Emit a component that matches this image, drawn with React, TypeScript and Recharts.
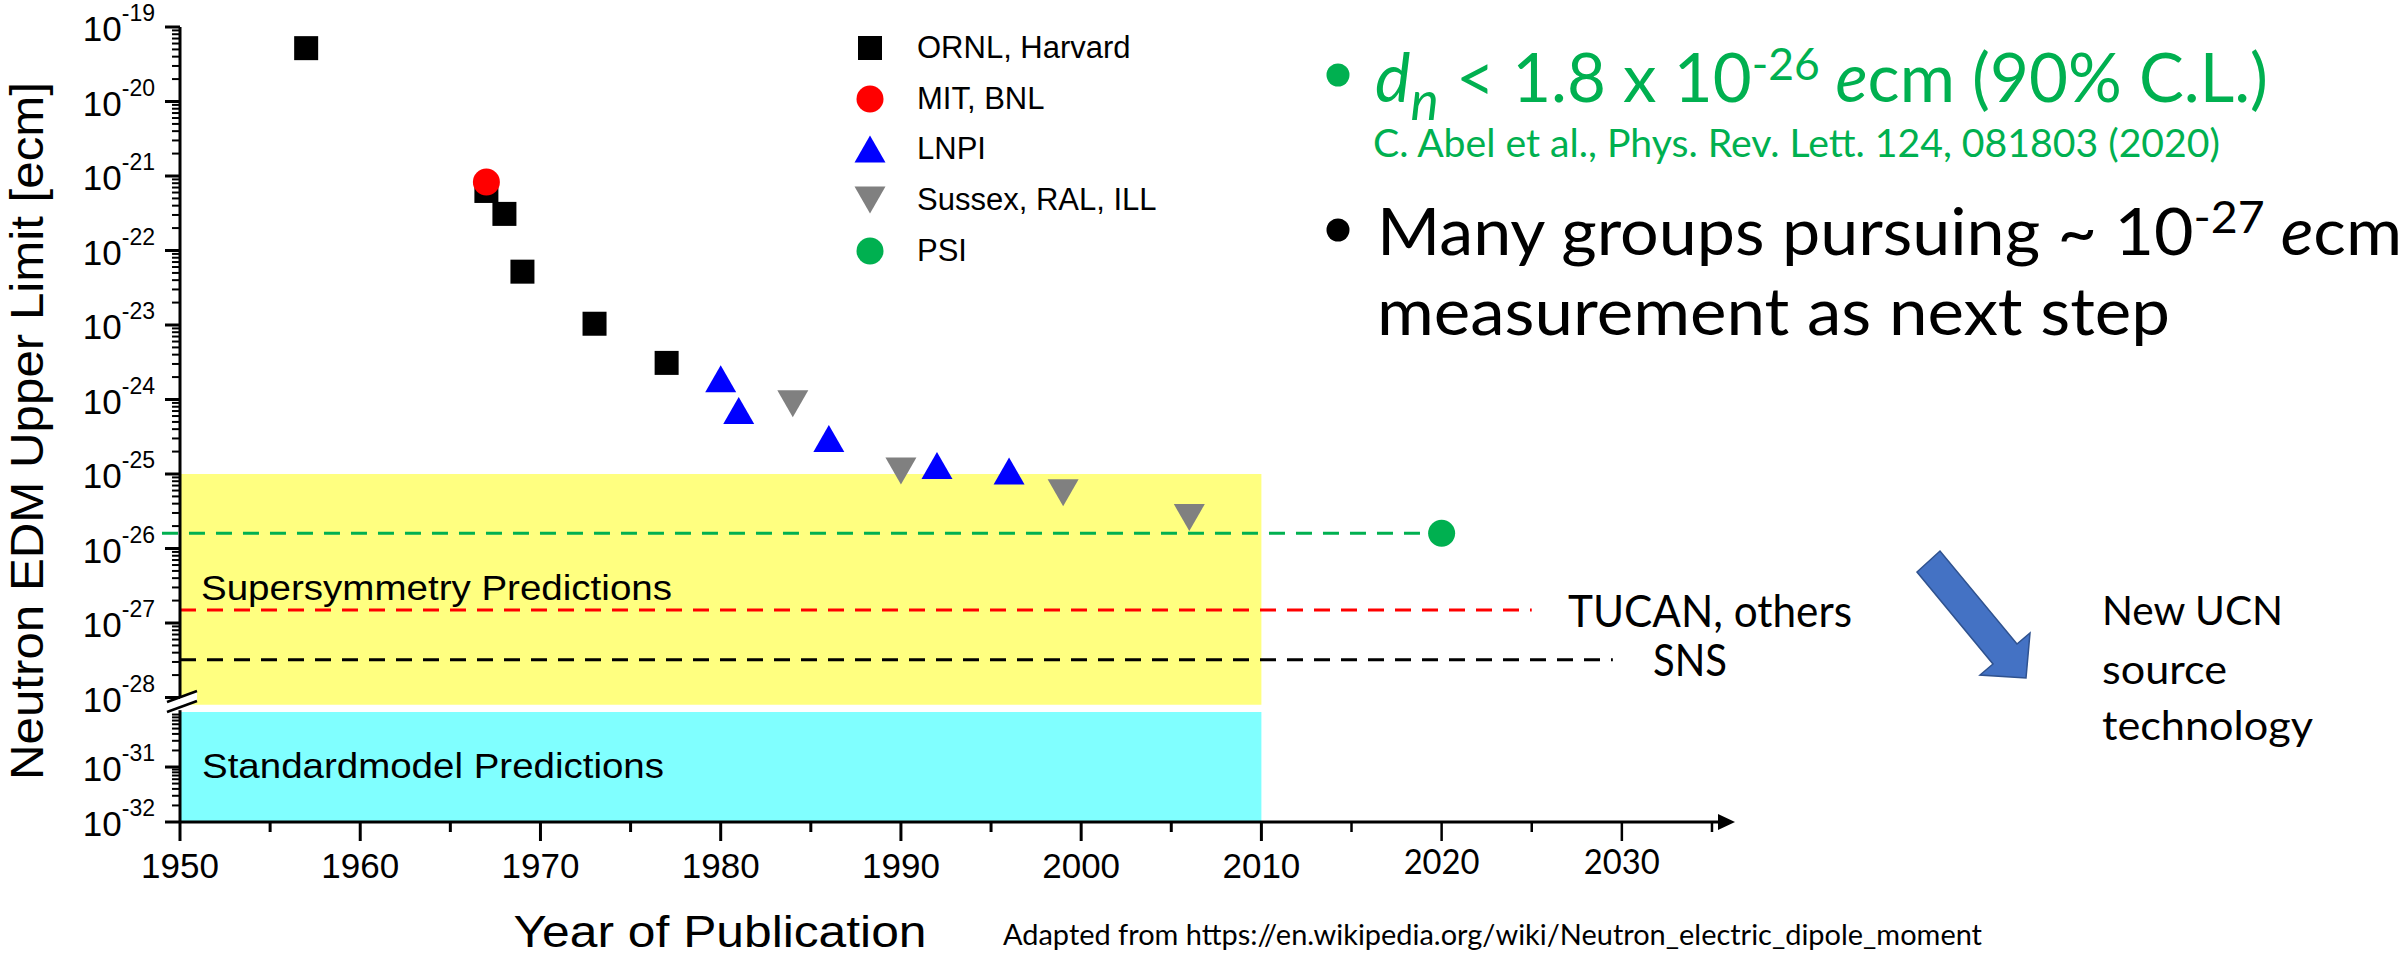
import React from "react";
import {
  ComposedChart,
  Scatter,
  XAxis,
  YAxis,
  ReferenceArea,
  ReferenceLine,
  ReferenceDot,
  Legend,
} from "recharts";

// neutron EDM upper limits (year of publication, e*cm)
const ornlYears = [1957, 1967, 1968, 1969, 1973, 1977];
const ornlLimits = [5.2e-20, 6.3e-22, 3.1e-22, 5.2e-23, 1.04e-23, 3.1e-24];
const mitYears = [1967];
const mitLimits = [8.3e-22];
const lnpiYears = [1980, 1981, 1986, 1992, 1996];
const lnpiLimits = [1.9e-24, 7.1e-25, 3.0e-25, 1.3e-25, 1.1e-25];
const sussexYears = [1984, 1990, 1999, 2006];
const sussexLimits = [8.8e-25, 1.1e-25, 5.6e-26, 2.6e-26];
const psiYears = [2020];
const psiLimits = [1.6e-26];

// dashed sensitivity lines
const projLimits = [1.6e-26, 1.5e-27, 3.2e-28];
const projFrom = [1949, 1950, 1950];
const projTo = [2020, 2025, 2029.5];
const projColors = ["#00B050", "#FF0000", "#000000"];

// prediction bands
const bandNames = ["Supersymmetry Predictions", "Standardmodel Predictions"];
const bandTop = [1e-25, 1e-30];
const bandBottom = [8e-29, 1e-32];
const bandColors = ["#FFFF80", "#80FFFF"];
const bandFrom = 1950;
const bandTo = 2010;

const xTicks = [1950, 1955, 1960, 1965, 1970, 1975, 1980, 1985, 1990, 1995, 2000, 2005, 2010, 2015, 2020, 2025, 2030, 2035];
const yMajorExps = [-19, -20, -21, -22, -23, -24, -25, -26, -27, -28, -31, -32];

// broken log axis: upper part one unit per decade, lower part squeezed
const LOWER_AT_31 = -28.933;
const LOWER_STEP = 0.738;
const uFromLog = (lg: number) => (lg >= -29 ? lg : LOWER_AT_31 + (lg + 31) * LOWER_STEP);
const toU = (v: number) => uFromLog(Math.log10(v));
const Y_MIN = uFromLog(-32);
const Y_MAX = -19;
const BREAK_U = -28.1;

const yMajor = yMajorExps.map((e) => ({ e, u: uFromLog(e) }));
const yMinor: number[] = [];
for (let d = -28; d < -19; d++) for (let k = 2; k <= 9; k++) yMinor.push(uFromLog(d + Math.log10(k)));
for (let d = -32; d < -30; d++) for (let k = 2; k <= 9; k++) yMinor.push(uFromLog(d + Math.log10(k)));
const yTicks = [...yMajor.map((t) => t.u), ...yMinor];

const pts = (years: number[], limits: number[]) => years.map((x, i) => ({ x, y: toU(limits[i]) }));

const groups = [
  { name: "ORNL, Harvard", color: "#000000", shape: "square", data: pts(ornlYears, ornlLimits) },
  { name: "MIT, BNL", color: "#FF0000", shape: "circle", data: pts(mitYears, mitLimits) },
  { name: "LNPI", color: "#0000FF", shape: "up", data: pts(lnpiYears, lnpiLimits) },
  { name: "Sussex, RAL, ILL", color: "#808080", shape: "down", data: pts(sussexYears, sussexLimits) },
  { name: "PSI", color: "#00B050", shape: "circle", data: pts(psiYears, psiLimits) },
];

const ARIAL = "'Liberation Sans', Arial, sans-serif";
const CALIBRI = "Lato, 'Open Sans', sans-serif";

function marker(shape: string, color: string, cx: number, cy: number) {
  if (shape === "square") return <rect x={cx - 12} y={cy - 12} width={24} height={24} fill={color} />;
  if (shape === "circle") return <circle cx={cx} cy={cy} r={13.5} fill={color} />;
  if (shape === "up")
    return <polygon points={`${cx},${cy - 13.5} ${cx + 15.5},${cy + 13.5} ${cx - 15.5},${cy + 13.5}`} fill={color} />;
  return <polygon points={`${cx - 15.5},${cy - 13.5} ${cx + 15.5},${cy - 13.5} ${cx},${cy + 13.5}`} fill={color} />;
}

const XTick = (p: any) => {
  const { x, y, payload } = p;
  const v = payload.value;
  const major = v % 10 === 0;
  const hand = v > 2010;
  return (
    <g>
      <line x1={x} x2={x} y1={y} y2={y + (major ? 19 : 10)} stroke="#000" strokeWidth={hand ? 2.5 : 3} />
      {major &&
        (hand ? (
          <text x={x} y={y + 52} textAnchor="middle" fontFamily={CALIBRI} fontSize={34} textLength={76} lengthAdjust="spacingAndGlyphs" fill="#000">
            {v}
          </text>
        ) : (
          <text x={x} y={y + 56} textAnchor="middle" fontFamily={ARIAL} fontSize={35} fill="#000">
            {v}
          </text>
        ))}
    </g>
  );
};

const YTick = (p: any) => {
  const { x, y, payload } = p;
  const m = yMajor.find((t) => Math.abs(t.u - payload.value) < 1e-6);
  return (
    <g>
      <line x1={x - (m ? 15 : 8)} x2={x} y1={y} y2={y} stroke="#000" strokeWidth={m ? 3 : 2} />
      {m && (
        <text x={x - 25} y={y + 14} textAnchor="end" fontFamily={ARIAL} fill="#000">
          <tspan fontSize={35}>10</tspan>
          <tspan fontSize={23} dy={-20}>{`${m.e}`}</tspan>
        </text>
      )}
    </g>
  );
};

const renderLegend = () => (
  <div style={{ fontFamily: ARIAL, fontSize: 31, color: "#000" }}>
    {groups.map((g) => (
      <div key={g.name} style={{ display: "flex", alignItems: "center", height: 50.6 }}>
        <svg width={40} height={40}>{marker(g.shape, g.color, 20, 20)}</svg>
        <span style={{ marginLeft: 27, lineHeight: "34px" }}>{g.name}</span>
      </div>
    ))}
  </div>
);

const breakShape = (p: any) => {
  const { cx, cy } = p;
  return (
    <g>
      <polygon points={`${cx - 13},${cy - 3} ${cx + 17},${cy - 14} ${cx + 17},${cy - 4} ${cx - 13},${cy + 7}`} fill="#fff" />
      <line x1={cx - 13} y1={cy - 3} x2={cx + 17} y2={cy - 14} stroke="#000" strokeWidth={2.5} />
      <line x1={cx - 13} y1={cy + 7} x2={cx + 17} y2={cy - 4} stroke="#000" strokeWidth={2.5} />
    </g>
  );
};

const arrowHead = (p: any) => {
  const { cx, cy } = p;
  return <polygon points={`${cx + 5},${cy} ${cx - 12},${cy - 8} ${cx - 12},${cy + 8}`} fill="#000" />;
};

export default function App() {
  return (
    <div style={{ position: "absolute", left: 0, top: 0, width: 2407, height: 958, background: "#fff" }}>
      <ComposedChart width={2407} height={958} margin={{ top: 27, right: 677, bottom: 76, left: 80 }}>
        <XAxis
          type="number"
          dataKey="x"
          domain={[1950, 2036]}
          ticks={xTicks}
          interval={0}
          height={60}
          tickSize={0}
          tickMargin={0}
          tickLine={false}
          axisLine={{ stroke: "#000", strokeWidth: 3 }}
          tick={XTick}
          allowDataOverflow
        />
        <YAxis
          type="number"
          dataKey="y"
          domain={[Y_MIN, Y_MAX]}
          ticks={yTicks}
          interval={0}
          width={100}
          tickSize={0}
          tickMargin={0}
          tickLine={false}
          axisLine={false}
          tick={YTick}
          allowDataOverflow
        />
        {bandNames.map((n, i) => (
          <ReferenceArea
            key={n}
            x1={bandFrom}
            x2={bandTo}
            y1={toU(bandBottom[i])}
            y2={toU(bandTop[i])}
            fill={bandColors[i]}
            fillOpacity={1}
            stroke="none"
            ifOverflow="visible"
          />
        ))}
        {projLimits.map((v, i) => (
          <ReferenceLine
            key={i}
            segment={[
              { x: projFrom[i], y: toU(v) },
              { x: projTo[i], y: toU(v) },
            ]}
            stroke={projColors[i]}
            strokeWidth={3}
            strokeDasharray="16 11"
            ifOverflow="visible"
          />
        ))}
        <ReferenceLine segment={[{ x: 1950, y: Y_MAX }, { x: 1950, y: -28.02 }]} stroke="#000" strokeWidth={3} ifOverflow="visible" />
        <ReferenceLine segment={[{ x: 1950, y: -28.17 }, { x: 1950, y: Y_MIN }]} stroke="#000" strokeWidth={3} ifOverflow="visible" />
        <ReferenceDot x={1950} y={BREAK_U} shape={breakShape} ifOverflow="visible" />
        <ReferenceDot x={2036} y={Y_MIN} shape={arrowHead} ifOverflow="visible" />
        {groups.map((g) => (
          <Scatter
            key={g.name}
            name={g.name}
            data={g.data}
            fill={g.color}
            isAnimationActive={false}
            shape={(p: any) => marker(g.shape, g.color, p.cx, p.cy)}
          />
        ))}
        <Legend
          layout="vertical"
          align="center"
          verticalAlign="middle"
          content={renderLegend}
          wrapperStyle={{ left: 850, top: 23, width: 420 }}
        />
      </ComposedChart>

      <svg width={2407} height={958} style={{ position: "absolute", left: 0, top: 0, pointerEvents: "none" }}>
        <text transform="rotate(-90 43 431)" x={43} y={431} textAnchor="middle" fontFamily={ARIAL} fontSize={46} textLength={698} lengthAdjust="spacingAndGlyphs" fill="#000">
          Neutron EDM Upper Limit [ecm]
        </text>
        <text x={720} y={947} textAnchor="middle" fontFamily={ARIAL} fontSize={45} textLength={413} lengthAdjust="spacingAndGlyphs" fill="#000">
          Year of Publication
        </text>
        <text x={201} y={600} fontFamily={ARIAL} fontSize={35} textLength={471} lengthAdjust="spacingAndGlyphs" fill="#000">
          {bandNames[0]}
        </text>
        <text x={202} y={778} fontFamily={ARIAL} fontSize={35} textLength={462} lengthAdjust="spacingAndGlyphs" fill="#000">
          {bandNames[1]}
        </text>

        <circle cx={1338} cy={75} r={11.5} fill="#00B050" />
        <text x={1375} y={102} fill="#00B050" fontFamily={CALIBRI} fontSize={68} textLength={893} lengthAdjust="spacingAndGlyphs">
          <tspan fontStyle="italic">d</tspan>
          <tspan fontStyle="italic" fontSize={54} dy={18}>n</tspan>
          <tspan dy={-18}>{" < 1.8 x 10"}</tspan>
          <tspan fontSize={45} dy={-22}>-26</tspan>
          <tspan dy={22} fontStyle="italic">{" e"}</tspan>
          <tspan>{"cm (90% C.L.)"}</tspan>
        </text>
        <text x={1373} y={157} fill="#00B050" fontFamily={CALIBRI} fontSize={39} textLength={847} lengthAdjust="spacingAndGlyphs">
          C. Abel et al., Phys. Rev. Lett.  124, 081803 (2020)
        </text>
        <circle cx={1338} cy={230} r={11.5} fill="#000" />
        <text x={1377} y={255} fill="#000" fontFamily={CALIBRI} fontSize={66} textLength={1025} lengthAdjust="spacingAndGlyphs">
          <tspan>{"Many groups pursuing ~ 10"}</tspan>
          <tspan fontSize={45} dy={-22}>-27</tspan>
          <tspan dy={22} fontStyle="italic">{" e"}</tspan>
          <tspan>cm</tspan>
        </text>
        <text x={1377} y={335} fill="#000" fontFamily={CALIBRI} fontSize={66} textLength={793} lengthAdjust="spacingAndGlyphs">
          measurement as next step
        </text>

        <text x={1568} y={627} fill="#000" fontFamily={CALIBRI} fontSize={44} textLength={284} lengthAdjust="spacingAndGlyphs">
          TUCAN, others
        </text>
        <text x={1653} y={676} fill="#000" fontFamily={CALIBRI} fontSize={44} textLength={74} lengthAdjust="spacingAndGlyphs">
          SNS
        </text>

        <polygon
          points="1917,572 1940,551 2017,644 2030,633 2026,678 1980,675 1993,664"
          fill="#4472C4"
          stroke="#2F528F"
          strokeWidth={1.5}
        />
        <text x={2102} y={625} fill="#000" fontFamily={CALIBRI} fontSize={40} textLength={181} lengthAdjust="spacingAndGlyphs">
          New UCN
        </text>
        <text x={2102} y={684} fill="#000" fontFamily={CALIBRI} fontSize={40} textLength={125} lengthAdjust="spacingAndGlyphs">
          source
        </text>
        <text x={2102} y={740} fill="#000" fontFamily={CALIBRI} fontSize={40} textLength={211} lengthAdjust="spacingAndGlyphs">
          technology
        </text>

        <text x={1003} y={945} fill="#000" fontFamily={CALIBRI} fontSize={28} textLength={979} lengthAdjust="spacingAndGlyphs">
          Adapted from https://en.wikipedia.org/wiki/Neutron_electric_dipole_moment
        </text>
      </svg>
    </div>
  );
}
